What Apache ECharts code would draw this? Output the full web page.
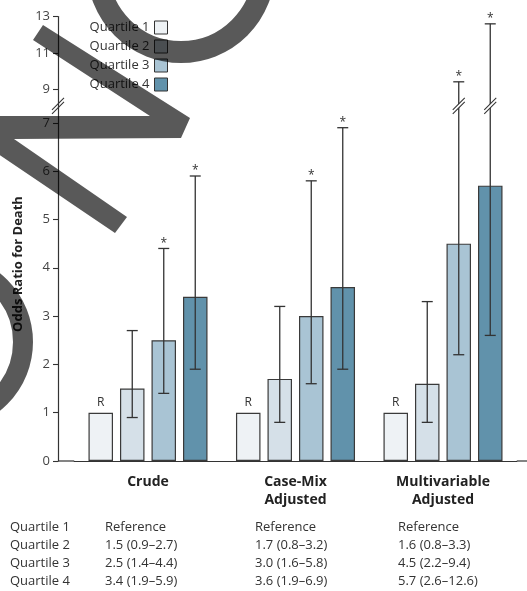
<!DOCTYPE html>
<html>
<head>
<meta charset="utf-8">
<script src="https://cdn.jsdelivr.net/npm/echarts@6/dist/echarts.min.js"></script>
<style>
  html, body { margin: 0; padding: 0; background: #ffffff; }
  #chart { width: 527px; height: 591px; }
</style>
</head>
<body>
<div id="chart"></div>
<script>
// Odds ratio for death by quartile, three models
const categories = ['Crude', 'Case-Mix\nAdjusted', 'Multivariable\nAdjusted'];
const quartiles = ['Quartile 1', 'Quartile 2', 'Quartile 3', 'Quartile 4'];

// Point estimates (Quartile 1 is the reference group)
const ratioQ1 = [1.0, 1.0, 1.0];
const ratioQ2 = [1.5, 1.7, 1.6];
const ratioQ3 = [2.5, 3.0, 4.5];
const ratioQ4 = [3.4, 3.6, 5.7];

// 95% confidence limits
const lowerQ2 = [0.9, 0.8, 0.8];
const upperQ2 = [2.7, 3.2, 3.3];
const lowerQ3 = [1.4, 1.6, 2.2];
const upperQ3 = [4.4, 5.8, 9.4];
const lowerQ4 = [1.9, 1.9, 2.6];
const upperQ4 = [5.9, 6.9, 12.6];

// Significance flags (asterisks)
const significantQ2 = [false, false, false];
const significantQ3 = [true, true, true];
const significantQ4 = [true, true, true];

// Y axis tick labels (axis is broken above 7)
const yTickLabels = [0, 1, 2, 3, 4, 5, 6, 7, 9, 11, 13];

const ratios = [ratioQ1, ratioQ2, ratioQ3, ratioQ4];
const lowers = [null, lowerQ2, lowerQ3, lowerQ4];
const uppers = [null, upperQ2, upperQ3, upperQ4];
const signif = [null, significantQ2, significantQ3, significantQ4];

const barColors = ['#eef2f5', '#d5e0e8', '#a9c4d4', '#6192ab'];
const FONT = '"Open Sans", "Noto Sans", sans-serif';
const INK = '#333333';

// Compressed scale above the axis break
const BREAK_FROM = 7;
const UPPER_SCALE = 0.375;
const UPPER_SHIFT = -0.05;
function toAxis(v) {
  return v <= BREAK_FROM ? v : BREAK_FROM + UPPER_SHIFT + (v - BREAK_FROM) * UPPER_SCALE;
}
const BREAK_MARK = 7.35;
const yTickAxis = yTickLabels.map(toAxis);
const Y_MAX = toAxis(13);

const GRID_LEFT = 74.25, GRID_RIGHT = 10.25, GRID_TOP = 16.6, GRID_BOTTOM = 130;
const AXIS_OFFSET = 16.25;
const BAR_W = 24.5, BAR_SPACE = 7, CAP = 11;

function axisLabelFor(v) {
  let best = 0;
  yTickAxis.forEach((t, i) => { if (Math.abs(t - v) < Math.abs(yTickAxis[best] - v)) best = i; });
  return String(yTickLabels[best]);
}

// Error-bar records: [group, low, high, quartile, significant, highRaw]
const errorData = [];
for (let q = 1; q < 4; q++) {
  for (let g = 0; g < categories.length; g++) {
    errorData.push([g, toAxis(lowers[q][g]), toAxis(uppers[q][g]), q, signif[q][g] ? 1 : 0, uppers[q][g]]);
  }
}

function breakShapes(x, y, half) {
  const h = half;
  return [
    { type: 'polygon', shape: { points: [[x - h, y + h - 2], [x + h, y - h - 2], [x + h, y - h + 2], [x - h, y + h + 2]] },
      style: { fill: '#ffffff' } },
    { type: 'line', shape: { x1: x - h, y1: y + h - 2, x2: x + h, y2: y - h - 2 }, style: { stroke: INK, lineWidth: 1.1 } },
    { type: 'line', shape: { x1: x - h, y1: y + h + 2, x2: x + h, y2: y - h + 2 }, style: { stroke: INK, lineWidth: 1.1 } }
  ];
}

function renderError(params, api) {
  const g = api.value(0), lo = api.value(1), hi = api.value(2), q = api.value(3);
  const sig = api.value(4), hiRaw = api.value(5);
  const center = api.coord([g, 0])[0];
  const x = center + (q - 1.5) * (BAR_W + BAR_SPACE);
  const yLo = api.coord([g, lo])[1];
  const yHi = api.coord([g, hi])[1];
  const stroke = { stroke: INK, lineWidth: 1.3 };
  const children = [
    { type: 'line', shape: { x1: x, y1: yLo, x2: x, y2: yHi }, style: stroke },
    { type: 'line', shape: { x1: x - CAP / 2, y1: yLo, x2: x + CAP / 2, y2: yLo }, style: stroke },
    { type: 'line', shape: { x1: x - CAP / 2, y1: yHi, x2: x + CAP / 2, y2: yHi }, style: stroke }
  ];
  if (hiRaw > BREAK_FROM) {
    const yb = api.coord([g, BREAK_MARK])[1];
    breakShapes(x, yb, 6).forEach(s => children.push(s));
  }
  if (sig) {
    children.push({ type: 'text', x: x, y: yHi - 5,
      style: { text: '*', fill: INK, font: '12px ' + FONT, textAlign: 'center', textVerticalAlign: 'middle' } });
  }
  return { type: 'group', children: children };
}

const chart = echarts.init(document.getElementById('chart'), null, { renderer: 'canvas' });

const option = {
  animation: false,
  backgroundColor: '#ffffff',
  textStyle: { fontFamily: FONT },
  grid: { left: GRID_LEFT, right: GRID_RIGHT, top: GRID_TOP, bottom: GRID_BOTTOM, containLabel: false, outerBoundsMode: 'none' },
  legend: {
    data: quartiles,
    orient: 'vertical',
    align: 'right',
    right: 359,
    top: 20.5,
    itemWidth: 13,
    itemHeight: 13,
    itemGap: 5,
    icon: 'rect',
    padding: 0,
    textStyle: { fontFamily: FONT, fontSize: 13, color: INK },
    itemStyle: { borderColor: INK, borderWidth: 1 }
  },
  xAxis: {
    type: 'category',
    data: categories,
    axisLine: { show: true, lineStyle: { color: INK, width: 1.2 } },
    axisTick: { show: false },
    splitLine: { show: false },
    axisLabel: { margin: 12, fontFamily: FONT, fontSize: 14, fontWeight: 'bold', color: '#222', lineHeight: 18 }
  },
  yAxis: {
    type: 'value',
    min: 0,
    max: Y_MAX,
    offset: AXIS_OFFSET,
    splitLine: { show: false },
    axisLine: { show: true, lineStyle: { color: INK, width: 1.2 } },
    axisTick: { show: true, inside: false, length: 5, customValues: yTickAxis, lineStyle: { color: INK, width: 1.1 } },
    axisLabel: { customValues: yTickAxis, formatter: axisLabelFor, margin: 8, fontFamily: FONT, fontSize: 13, color: '#444' }
  },
  series: quartiles.map((name, i) => ({
    name: name,
    type: 'bar',
    data: ratios[i].map(toAxis),
    barWidth: BAR_W,
    barGap: (BAR_SPACE / BAR_W * 100).toFixed(1) + '%',
    itemStyle: { color: barColors[i], borderColor: '#3a3a3a', borderWidth: 1.2 },
    label: i === 0
      ? { show: true, position: 'top', distance: 4, formatter: 'R', fontFamily: FONT, fontSize: 12, color: INK }
      : { show: false },
    z: 2
  })).concat([{
    name: 'CI',
    type: 'custom',
    renderItem: renderError,
    data: errorData,
    encode: { x: 0, y: [1, 2] },
    z: 5,
    silent: true
  }])
};
chart.setOption(option);

// Axis decorations and the table of estimates
const axisX = GRID_LEFT - AXIS_OFFSET;
const y0 = chart.convertToPixel({ yAxisIndex: 0 }, 0);
const yBreak = chart.convertToPixel({ yAxisIndex: 0 }, BREAK_MARK);

const graphics = [
  { type: 'line', shape: { x1: axisX, y1: y0, x2: GRID_LEFT, y2: y0 }, style: { stroke: INK, lineWidth: 1.2 }, z: 10 },
  { type: 'line', shape: { x1: 527 - GRID_RIGHT, y1: y0, x2: 527, y2: y0 }, style: { stroke: INK, lineWidth: 1.2 }, z: 10 },
  { type: 'group', z: 10, children: breakShapes(axisX, yBreak, 6) },
  { type: 'text', x: 18, y: 264, rotation: Math.PI / 2, z: 10,
    style: { text: 'Odds Ratio for Death', font: 'bold 13px ' + FONT, fill: '#222', textAlign: 'center', textVerticalAlign: 'middle' } }
];

const tableCols = [105, 255, 398];
const tableRows = [527, 545, 563, 581];
quartiles.forEach((q, i) => {
  graphics.push({ type: 'text', x: 10, y: tableRows[i], z: 10,
    style: { text: q, font: '13px ' + FONT, fill: INK, textAlign: 'left', textVerticalAlign: 'middle' } });
  categories.forEach((c, g) => {
    const txt = i === 0 ? 'Reference'
      : ratios[i][g].toFixed(1) + ' (' + lowers[i][g].toFixed(1) + '\u2013' + uppers[i][g].toFixed(1) + ')';
    graphics.push({ type: 'text', x: tableCols[g], y: tableRows[i], z: 10,
      style: { text: txt, font: '13px ' + FONT, fill: INK, textAlign: 'left', textVerticalAlign: 'middle' } });
  });
});

// Gray pen strokes across the upper left: a zigzag and two ring arcs
const PEN = 'rgba(0,0,0,0.65)';
graphics.push(
  { type: 'polygon', z: 100, silent: true,
    shape: { points: [[33, 40], [43, 25], [190, 118], [181, 138], [14, 139], [127, 217], [115, 233],
                      [-2, 154], [-2, 116], [150, 116]] },
    style: { fill: PEN, stroke: null } },
  { type: 'circle', z: 100, silent: true, shape: { cx: 181, cy: -31, r: 83 },
    style: { stroke: PEN, lineWidth: 22, fill: null } },
  { type: 'circle', z: 100, silent: true, shape: { cx: -55, cy: 342, r: 78 },
    style: { stroke: PEN, lineWidth: 20, fill: null } }
);

chart.setOption({ graphic: graphics });
</script>
</body>
</html>
